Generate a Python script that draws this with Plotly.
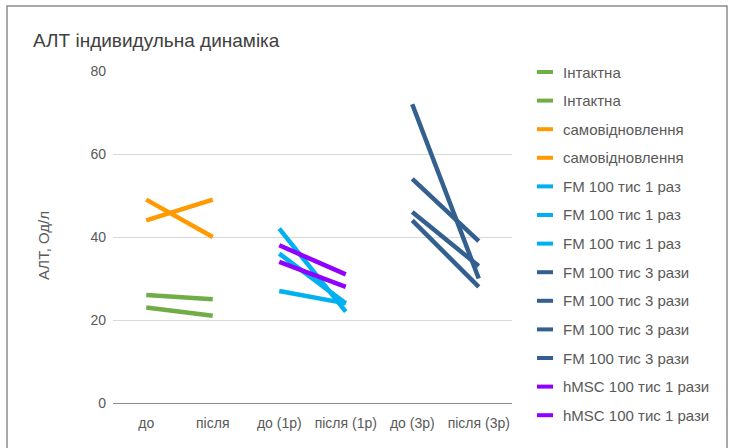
import plotly.graph_objects as go

# Category axis
categories = ["до", "після", "до (1р)", "після (1р)", "до (3р)", "після (3р)"]

# Individual before/after values per animal, by group
intact = [[26, 25], [23, 21]]
self_recovery = [[44, 49], [49, 40]]
fm_1x = [[42, 22], [36, 24], [27, 24]]
fm_3x = [[72, 30], [54, 39], [46, 33], [44, 28]]
hmsc_1x = [[38, 31], [34, 28]]

group_names = ["Інтактна", "самовідновлення", "FM 100 тис 1 раз",
               "FM 100 тис 3 рази", "hMSC 100 тис 1 рази"]
group_colors = ["#70AD47", "#FF9A00", "#00B0F0", "#33608F", "#9000FF"]
group_values = [intact, self_recovery, fm_1x, fm_3x, hmsc_1x]
group_pairs = [(0, 1), (0, 1), (2, 3), (4, 5), (2, 3)]

y_ticks = [0, 20, 40, 60, 80]

TEXT = "#595959"
FONT = "Liberation Sans"

fig = go.Figure()

legend_items = []
for name, color, vals, (a, b) in zip(group_names, group_colors, group_values, group_pairs):
    for pair in vals:
        fig.add_trace(go.Scatter(
            x=[categories[a], categories[b]], y=pair,
            mode="lines", name=name,
            line=dict(color=color, width=4.5),
            showlegend=False,
        ))
        legend_items.append((name, color))

# Legend drawn as short line swatches with labels on the right
shapes = []
annotations = []
L, R, T, B = 113, 219, 71, 45
W, H = 731 - L - R, 448 - T - B
top_y, step = 72, 28.6
for i, (name, color) in enumerate(legend_items):
    ypx = top_y + i * step
    yp = (448 - B - ypx) / H
    shapes.append(dict(type="line", xref="paper", yref="paper",
                       x0=(537 - L) / W, x1=(553 - L) / W, y0=yp, y1=yp,
                       line=dict(color=color, width=4)))
    annotations.append(dict(xref="paper", yref="paper", x=(561 - L) / W, y=yp,
                            xanchor="left", yanchor="middle", showarrow=False,
                            text=name, font=dict(size=15, color=TEXT, family=FONT)))

# Outer chart border
shapes.append(dict(type="rect", xref="paper", yref="paper",
                   x0=(7 - L) / W, x1=(727 - L) / W,
                   y0=(448 - B - 460) / H, y1=(448 - B - 6) / H,
                   line=dict(color="#8C8C8C", width=1.5), fillcolor="rgba(0,0,0,0)",
                   layer="below"))

# Y axis title
annotations.append(dict(xref="paper", yref="paper", x=(43 - L) / W, y=(448 - B - 246) / H,
                        xanchor="center", yanchor="middle", showarrow=False,
                        textangle=-90, text="АЛТ, Од/л",
                        font=dict(size=15, color=TEXT, family=FONT)))

fig.update_layout(
    width=731, height=448,
    margin=dict(l=L, r=R, t=T, b=B),
    paper_bgcolor="white", plot_bgcolor="white",
    title=dict(text="АЛТ індивидульна динаміка", x=33 / 731, xanchor="left",
               y=1 - 40 / 448, yanchor="middle",
               font=dict(size=19, color="#404040", family=FONT)),
    xaxis=dict(type="category", categoryorder="array", categoryarray=categories,
               range=[-0.5, 5.5], showgrid=False, showline=False, zeroline=False,
               ticks="", ticklabelstandoff=10,
               tickfont=dict(size=14, color=TEXT, family=FONT)),
    yaxis=dict(range=[0, 80], tickvals=y_ticks, showgrid=True, gridcolor="#D9D9D9",
               gridwidth=1, zeroline=True, zerolinecolor="#8C8C8C", zerolinewidth=1,
               showline=False, ticks="", ticklabelstandoff=6,
               tickfont=dict(size=14, color=TEXT, family=FONT)),
    shapes=shapes, annotations=annotations, showlegend=False,
)
fig.layout.title.xref = "container"

fig.write_html("out.html")
